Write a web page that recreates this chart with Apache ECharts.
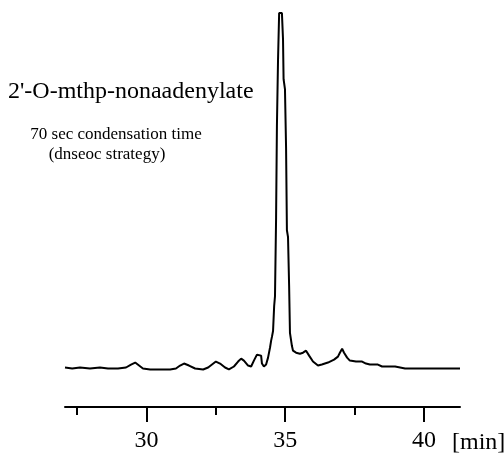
<!DOCTYPE html>
<html>
<head>
<meta charset="utf-8">
<script src="https://cdn.jsdelivr.net/npm/echarts@6/dist/echarts.min.js"></script>
<style>
  html, body { margin: 0; padding: 0; background: #fff; }
  #chart { width: 504px; height: 453px; }
</style>
</head>
<body>
<div id="chart"></div>
<script>
// retention time [min]
var times = [27.06, 27.32, 27.60, 27.96, 28.32, 28.61, 28.97, 29.26, 29.44, 29.59,
    29.73, 29.87, 30.13, 30.49, 30.85, 31.06, 31.21, 31.35, 31.53, 31.75,
    32.04, 32.22, 32.36, 32.50, 32.65, 32.83, 32.97, 33.15, 33.30, 33.41,
    33.51, 33.66, 33.77, 33.87, 33.98, 34.05, 34.13, 34.16, 34.23, 34.31,
    34.38, 34.45, 34.49, 34.52, 34.56, 34.60, 34.63, 34.67, 34.70, 34.74,
    34.78, 34.81, 34.88, 34.92, 34.94, 34.99, 35.03, 35.06, 35.10, 35.14,
    35.17, 35.24, 35.28, 35.39, 35.53, 35.64, 35.75, 35.86, 36.00, 36.18,
    36.32, 36.54, 36.76, 36.90, 36.97, 37.05, 37.12, 37.23, 37.33, 37.55,
    37.77, 37.91, 38.05, 38.34, 38.49, 38.96, 39.14, 39.32, 39.86, 40.58, 41.30];
// detector signal (arbitrary units)
var signal = [0, -1, 0, -1, 0, -1, -1, 0, 3, 5,
    2, -1, -2, -2, -2, -1, 2, 4, 2, -1,
    -2, 0, 3, 6, 4, 0, -2, 1, 6, 9,
    7, 2, 1, 7, 13, 15, 12, 4, 1, 3,
    10, 20, 27, 31, 37, 62, 72, 152, 245, 312,
    359, 359, 359, 332, 292, 282, 222, 139, 132, 82,
    35, 22, 17, 15, 14, 15, 17, 12, 6, 2,
    3, 5, 8, 11, 15, 19, 15, 10, 7, 6,
    6, 4, 3, 3, 1, 1, 0, -1, -1, -1, -1];
var majorTicks = [30, 35, 40];
var minorTicks = [27.5, 32.5, 37.5];

var serif = '"Liberation Serif", "DejaVu Serif", serif';

function showChart() {
    var dom = document.getElementById('chart');
    var myChart = echarts.init(dom);

    var points = [];
    for (var i = 0; i < times.length; i++) {
        points.push([times[i], signal[i]]);
    }

    var option = {
        backgroundColor: '#fff',
        animation: false,
        grid: { left: 65, right: 44, top: 12, bottom: 41 },
        xAxis: [{
            type: 'value',
            min: 27.06,
            max: 41.3,
            position: 'bottom',
            axisLine: { onZero: false, lineStyle: { color: '#000', width: 2 } },
            axisTick: { customValues: majorTicks, length: 15, lineStyle: { color: '#000', width: 2 } },
            axisLabel: {
                customValues: majorTicks,
                color: '#000',
                fontFamily: serif,
                fontSize: 24,
                margin: 22
            },
            splitLine: { show: false }
        }, {
            type: 'value',
            min: 27.06,
            max: 41.3,
            position: 'bottom',
            offset: 0,
            axisLine: { show: false, onZero: false },
            axisTick: { customValues: minorTicks, length: 8, lineStyle: { color: '#000', width: 2 } },
            axisLabel: { show: false },
            splitLine: { show: false }
        }],
        yAxis: {
            type: 'value',
            min: -40,
            max: 360,
            show: false,
            splitLine: { show: false }
        },
        graphic: [{
            type: 'text', left: 8, top: 80,
            style: { text: "2'-O-mthp-nonaadenylate", font: '24px ' + serif, fill: '#000' }
        }, {
            type: 'text', x: 116, y: 126,
            style: { text: '70 sec condensation time', font: '17px ' + serif, fill: '#000', textAlign: 'center' }
        }, {
            type: 'text', x: 107, y: 146,
            style: { text: '(dnseoc strategy)', font: '17px ' + serif, fill: '#000', textAlign: 'center' }
        }, {
            type: 'text', left: 452, top: 431,
            style: { text: '[min]', font: '24px ' + serif, fill: '#000' }
        }],
        series: [{
            type: 'line',
            xAxisIndex: 0,
            data: points,
            symbol: 'none',
            lineStyle: { color: '#000', width: 2 }
        }]
    };

    myChart.setOption(option, true);

    window.addEventListener('resize', function () {
        myChart.resize();
    });
}

showChart();
</script>
</body>
</html>
